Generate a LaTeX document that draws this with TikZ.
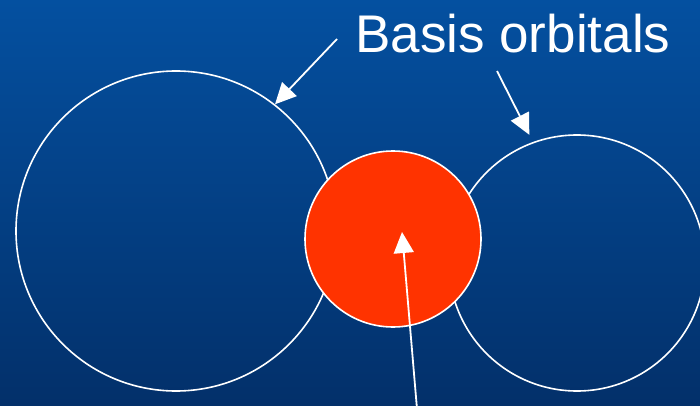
\documentclass[tikz,border=0pt]{standalone}
\usepackage{fontspec}
\setmainfont{Liberation Sans}
\usepackage{xcolor}
\usetikzlibrary{arrows.meta,positioning}
\definecolor{slidetop}{HTML}{0450A0}
\definecolor{slidebot}{HTML}{03306A}
\definecolor{coreorange}{HTML}{FF3300}
\tikzset{
  orbital/.style={circle,draw=white,line width=1.6pt,inner sep=0pt},
  corebox/.style={circle,draw=white,fill=coreorange,line width=1.6pt,inner sep=0pt},
  titletext/.style={text=white,inner sep=0pt,anchor=base west,
                    font=\fontsize{53}{60}\selectfont},
  whitearr/.style={-{Triangle[length=21pt,width=20pt]},line width=1.8pt,draw=white,fill=white}
}

\begin{document}
\begin{tikzpicture}[x=1pt,y=1pt]
  \useasboundingbox (0,0) rectangle (700,405);
  \clip (0,0) rectangle (700,405);
  \shade[top color=slidetop,bottom color=slidebot] (0,0) rectangle (700,405);

  % the two basis functions and the core in between
  \node[orbital,minimum size=320pt] (leftorb) at (176,174) {};
  \node[orbital,minimum size=256pt] (rightorb) at (577,142) {};
  \node[corebox,minimum size=176pt] (core) at (393,166) {};

  \node[titletext] (label) at (355,352) {Basis orbitals};

  \coordinate (tailA) at (337,366);
  \coordinate (tailB) at (497,334);
  \coordinate (tailC) at (417,-4);
  \coordinate (coretip) at (402,173);

  \draw[whitearr] (tailA) -- (leftorb.52.8);
  \draw[whitearr,shorten >=8pt] (tailB) -- (rightorb.110.2);
  \draw[whitearr] (tailC) -- (coretip);
\end{tikzpicture}
\end{document}
